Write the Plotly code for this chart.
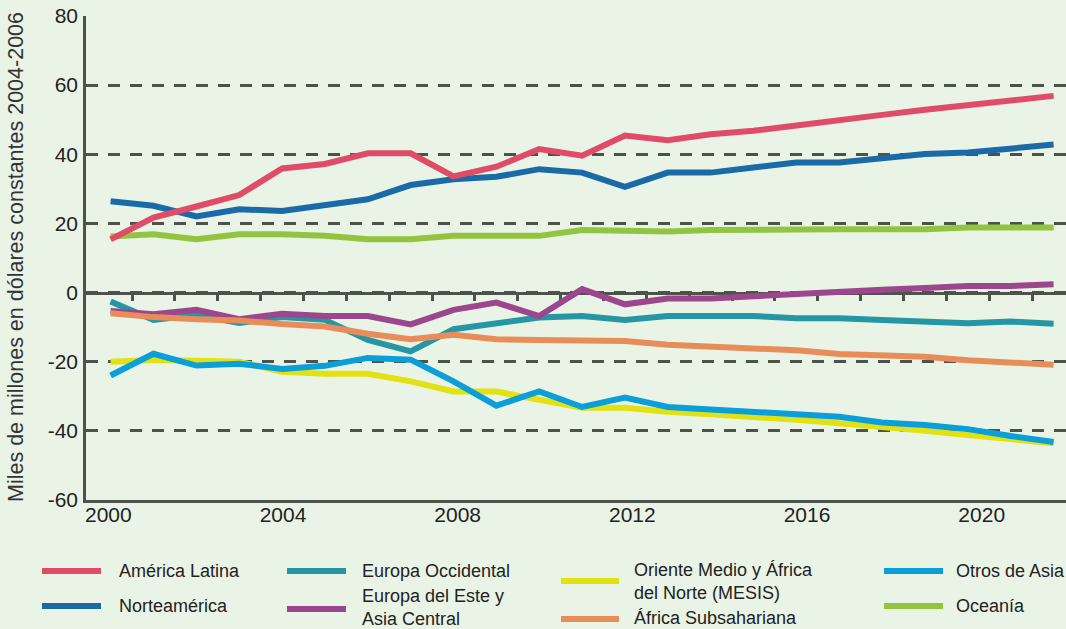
import plotly.graph_objects as go

# ---------------- data ----------------
years = list(range(2000, 2023))

america_latina = [15.4, 21.7, 24.9, 28.2, 35.9, 37.2, 40.3, 40.3, 33.6, 36.4, 41.5, 39.6,
                  45.4, 44.1, 45.8, 46.8, 48.3, 50.0, 51.4, 52.9, 54.2, 55.5, 56.9]
norteamerica = [26.4, 25.1, 22.0, 24.1, 23.6, 25.4, 27.0, 31.1, 32.8, 33.5, 35.7, 34.7,
                30.6, 34.7, 34.7, 36.2, 37.6, 37.6, 38.8, 40.1, 40.5, 41.7, 42.8]
oceania = [16.2, 16.9, 15.4, 16.9, 16.9, 16.4, 15.4, 15.4, 16.4, 16.4, 16.4, 18.1,
           17.7, 17.7, 18.1, 18.3, 18.3, 18.3, 18.3, 18.3, 18.8, 18.8, 18.8]
europa_occidental = [-2.6, -7.9, -6.5, -8.8, -7.1, -7.9, -13.7, -17.0, -10.6, -8.8, -7.2, -6.8,
                     -7.9, -6.8, -6.8, -6.8, -7.4, -7.4, -7.9, -8.4, -8.9, -8.4, -9.0]
europa_este = [-5.3, -6.3, -5.0, -7.7, -6.1, -6.8, -6.8, -9.2, -5.0, -2.9, -6.8, 1.0,
               -3.4, -1.7, -1.7, -1.0, -0.5, 0.2, 0.8, 1.35, 1.9, 1.9, 2.4]
africa_subsahariana = [-6.0, -7.1, -7.7, -8.1, -9.1, -9.8, -11.9, -13.5, -12.2, -13.5, -13.7, -13.8,
                       -14.0, -15.1, -15.6, -16.1, -16.7, -17.8, -18.0, -18.6, -19.6, -20.3, -20.9]
mesis = [-20.0, -19.5, -19.7, -20.0, -22.9, -23.5, -23.5, -25.7, -28.6, -28.6, -31.0, -33.3,
         -33.3, -34.5, -35.2, -35.9, -36.8, -37.8, -39.1, -40.0, -41.2, -42.4, -43.6]
otros_asia = [-24.0, -17.7, -21.1, -20.6, -22.1, -21.2, -18.9, -19.4, -25.7, -32.7, -28.6, -33.1,
              -30.4, -33.1, -33.8, -34.7, -35.2, -35.9, -37.6, -38.3, -39.5, -41.5, -43.2]

x_tick_labels = ["2000", "2004", "2008", "2012", "2016", "2020"]
y_tick_values = [-60, -40, -20, 0, 20, 40, 60, 80]
y_tick_labels = ["-60", "-40", "-20", "0", "20", "40", "60", "80"]
y_title = "Miles de millones en dólares constantes 2004-2006"

# series: (legend text, values, colour) in drawing order
series = [
    ("Oceanía", oceania, "#93c43f"),
    ("Norteamérica", norteamerica, "#1a6aa8"),
    ("América Latina", america_latina, "#e04c68"),
    ("Europa Occidental", europa_occidental, "#2596a3"),
    ("Europa del Este y<br>Asia Central", europa_este, "#9c468e"),
    ("África Subsahariana", africa_subsahariana, "#e88d5a"),
    ("Oriente Medio y África<br>del Norte (MESIS)", mesis, "#e1e114"),
    ("Otros de Asia", otros_asia, "#0a9fd8"),
]

# legend layout (pixel positions: swatch x0, swatch x1, swatch y, text x, text centre y)
legend_pos = {
    "América Latina": (42, 101, 571, 117, 571),
    "Norteamérica": (42, 101, 606, 117, 606),
    "Europa Occidental": (287, 346, 571, 360, 571),
    "Europa del Este y<br>Asia Central": (287, 346, 609, 360, 607),
    "Oriente Medio y África<br>del Norte (MESIS)": (561, 619, 581, 632, 581),
    "África Subsahariana": (561, 619, 619, 632, 618),
    "Otros de Asia": (884, 943, 571, 954, 571),
    "Oceanía": (884, 943, 606, 954, 606),
}

W, H = 1066, 629
L, R, T, B = 86, 0, 16, 129
BG = "#eaf4e6"
AXIS = "#4d524b"
TXT = "#222222"
FONT = "Liberation Sans, Arial, sans-serif"


def px_to_paper_x(px):
    return (px - L) / (W - L - R)


def px_to_paper_y(py):
    return (H - B - py) / (H - B - T)


fig = go.Figure()
for name, vals, col in series:
    fig.add_trace(go.Scatter(x=years, y=vals, mode="lines", name=name.replace("<br>", " "),
                             line=dict(color=col, width=6), showlegend=False,
                             hoverinfo="skip"))

# placeholder traces so the overlay axes render
fig.add_trace(go.Scatter(x=[None], y=[None], xaxis="x2", showlegend=False, hoverinfo="skip"))
fig.add_trace(go.Scatter(x=[None], y=[None], xaxis="x3", showlegend=False, hoverinfo="skip"))

data_range = [1999.426, 2022.29]
label_range = [1999.489, 2021.93]

fig.update_layout(
    width=W, height=H,
    margin=dict(l=L, r=R, t=T, b=B),
    paper_bgcolor=BG, plot_bgcolor=BG,
    font=dict(family=FONT, color=TXT),
    xaxis=dict(range=data_range, showgrid=False, zeroline=False, showticklabels=False,
               ticks="", showline=True, linecolor=AXIS, linewidth=2.5, layer="below traces"),
    xaxis2=dict(overlaying="x", anchor="y", range=label_range, showgrid=False, zeroline=False,
                tickmode="array", tickvals=[int(t) for t in x_tick_labels], ticktext=x_tick_labels,
                ticks="", showline=False, tickfont=dict(size=21, color=TXT, family=FONT),
                side="bottom", layer="below traces"),
    xaxis3=dict(overlaying="x", anchor="free", position=(0 - (-60)) / 140, range=data_range,
                showgrid=False, zeroline=False, showticklabels=False,
                tickmode="array", tickvals=[y + 0.5 for y in years[:-1]],
                ticks="outside", ticklen=7, tickwidth=2.5, tickcolor=AXIS,
                showline=True, linecolor=AXIS, linewidth=2.5, side="bottom", layer="below traces"),
    yaxis=dict(range=[-60, 80], tickmode="array", tickvals=y_tick_values, ticktext=y_tick_labels,
               showgrid=True, gridcolor=AXIS, gridwidth=2.5, griddash="12px,10px",
               zeroline=False, showline=True, linecolor=AXIS, linewidth=2.5,
               ticks="", ticklabelstandoff=1, tickfont=dict(size=21, color=TXT, family=FONT),
               layer="below traces"),
)

# y-axis title
fig.add_annotation(text=y_title, textangle=-90, xref="paper", yref="paper",
                   x=px_to_paper_x(16), y=px_to_paper_y(257), showarrow=False,
                   xanchor="center", yanchor="middle",
                   font=dict(size=21.5, color="#333333", family=FONT))

# manual legend
for name, vals, col in series:
    x0, x1, sy, tx, ty = legend_pos[name]
    fig.add_shape(type="line", xref="paper", yref="paper",
                  x0=px_to_paper_x(x0), x1=px_to_paper_x(x1),
                  y0=px_to_paper_y(sy), y1=px_to_paper_y(sy),
                  line=dict(color=col, width=6))
    fig.add_annotation(text=name, xref="paper", yref="paper", align="left",
                       x=px_to_paper_x(tx), y=px_to_paper_y(ty), showarrow=False,
                       xanchor="left", yanchor="middle",
                       font=dict(size=18, color=TXT, family=FONT))

fig.write_html("out.html", config={"displayModeBar": False},
               post_script="document.body.style.margin='0';document.body.style.overflow='hidden';")
